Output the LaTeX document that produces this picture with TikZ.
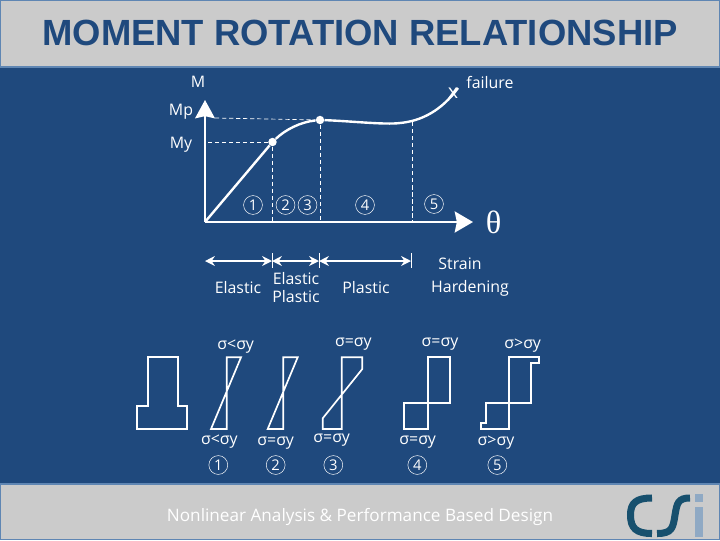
\documentclass[tikz,border=0pt]{standalone}
\usepackage{fontspec}
\setmainfont{Open Sans}
\newfontfamily\titlefont{Liberation Sans}
\newfontfamily\thetafont{Liberation Serif}
\usetikzlibrary{positioning,arrows.meta}
\definecolor{navy}{HTML}{1F497D}
\definecolor{band}{HTML}{CBCBCB}
\definecolor{frame}{HTML}{5F86B3}
\definecolor{csidark}{HTML}{17506E}
\definecolor{csilight}{HTML}{8FA9C4}
\tikzset{
    lbl/.style={text=white,inner sep=0pt,font=\fontsize{11.3}{13}\selectfont},
    num/.style={circle,draw=white,text=white,inner sep=0pt,minimum size=13.4pt,line width=0.35pt,font=\fontsize{10.5}{10.5}\selectfont},
    dot/.style={circle,fill=white,inner sep=0pt,minimum size=6pt},
    guide/.style={white,densely dashed,line width=0.5pt},
    vaxis/.style={white,line width=1.5pt,-{Stealth[length=13pt,width=14pt,inset=1.5pt]}},
    haxis/.style={white,line width=1.5pt,-{Stealth[length=13pt,width=15pt,inset=1.5pt]}},
    span/.style={white,line width=1pt,{Stealth[length=7pt,width=7pt]}-{Stealth[length=7pt,width=7pt]}},
    curve/.style={white,line width=1.7pt},
    block/.style={white,line width=1.2pt,line join=miter}
}
\begin{document}
\begin{tikzpicture}[x=0.025cm,y=-0.025cm]
    \useasboundingbox (0,0) rectangle (720,540);
    \fill[navy] (0,0) rectangle (720,540);
    \fill[band,draw=frame,line width=0.8pt] (0.5,0.5) rectangle (719.5,67);
    \fill[band,draw=frame,line width=0.8pt] (0.5,484) rectangle (719.5,539.5);
    \node[text=navy,inner sep=0pt,font=\titlefont\bfseries\fontsize{25.9}{30}\selectfont] at (360,33) (title) {MOMENT ROTATION RELATIONSHIP};
    \node[text=white,inner sep=0pt,font=\fontsize{12.2}{14}\selectfont] at (360,516.5) (footer) {Nonlinear Analysis \& Performance Based Design};

    % logo
    \draw[csidark,line width=5pt] (652,498) .. controls (636,498) and (630.5,503) .. (630.5,515) .. controls (630.5,528) and (636,533.5) .. (652,533.5);
    \draw[csidark,line width=5pt] (690,498) .. controls (678,498) and (677,503) .. (675,515) .. controls (673,528) and (672,533.5) .. (657,533.5);
    \fill[csilight] (695,494) rectangle (703,502);
    \fill[csilight] (695,507) rectangle (703,537);

    % moment rotation curve
    \coordinate (o) at (205,222);
    \coordinate (top) at (205,100);
    \coordinate (right) at (473,222);
    \coordinate (b1) at (272.5,222);
    \coordinate (b2) at (320,222);
    \coordinate (b3) at (412,222);
    \coordinate (h1) at (208,142);
    \coordinate (h2) at (215,118);
    \coordinate (s3) at (412,122);
    \coordinate (end) at (458,88);
    \node[dot] at (272.5,142) (my) {};
    \node[dot] at (320,120) (mp) {};
    \node[lbl] at (198,82) (m) {M};
    \node[lbl] at (181,112) (mplbl) {Mp};
    \node[lbl] at (181,145) (mylbl) {My};
    \node[lbl] at (490,82) (fail) {failure};
    \node[text=white,inner sep=0pt,font=\fontsize{14}{14}\selectfont] at (453,93) (x) {x};
    \node[text=white,inner sep=0pt,font=\thetafont\fontsize{23}{23}\selectfont] at (493.5,222) (theta) {θ};
    \draw[vaxis] (o) -- (top);
    \draw[haxis] (o) -- (right);
    \draw[guide] (h1) -- (my);
    \draw[guide] (h2) -- (mp);
    \draw[guide] (my) -- (b1);
    \draw[guide] (mp) -- (b2);
    \draw[guide] (s3) -- (b3);
    \draw[curve] (o) -- (my);
    \draw[curve] (my) .. controls (285,130) and (300,122) .. (mp);
    \draw[curve] (mp) .. controls (350,121) and (385,125) .. (400,123) .. controls (422,121) and (442,110) .. (end);
    \node[num] at (253,205) (n1) {1};
    \node[num] at (285.5,205) (n2) {2};
    \node[num] at (307.5,205) (n3) {3};
    \node[num] at (365,205) (n4) {4};
    \node[num] at (434,204) (n5) {5};

    % ranges
    \coordinate (r0) at (205,261);
    \coordinate (r1) at (272,261);
    \coordinate (r2) at (319,261);
    \coordinate (r3) at (411,261);
    \coordinate (t1a) at (272,253);
    \coordinate (t1b) at (272,268);
    \coordinate (t2a) at (319,253);
    \coordinate (t2b) at (319,268);
    \coordinate (t3a) at (411,253);
    \coordinate (t3b) at (411,268);
    \draw[span] (r0) -- (r1);
    \draw[span] (r1) -- (r2);
    \draw[span] (r2) -- (r3);
    \draw[white,line width=0.6pt] (t1a) -- (t1b);
    \draw[white,line width=0.6pt] (t2a) -- (t2b);
    \draw[white,line width=0.6pt] (t3a) -- (t3b);
    \node[lbl] at (238,288) (el) {Elastic};
    \node[lbl] at (296,279) (ep1) {Elastic};
    \node[lbl] at (296,297) (ep2) {Plastic};
    \node[lbl] at (366,288) (pl) {Plastic};
    \node[lbl] at (460,264) (sh1) {Strain};
    \node[lbl] at (470,288) (sh2) {Hardening};

    % section and stress blocks
    \draw[block,line width=1.4pt] (148.3,357.3) -- (177.7,357.3) -- (177.7,405.7) -- (187.3,405.7) -- (187.3,429) -- (137.3,429) -- (137.3,405.7) -- (148.3,405.7) -- cycle;
    \draw[block] (226.7,357.3) -- (241,357.3) -- (211,429) -- (226.7,429) -- cycle;
    \draw[block] (283.3,357.3) -- (297.7,357.3) -- (267.7,429) -- (283.3,429) -- cycle;
    \draw[block] (341.7,357.3) -- (362.3,357.3) -- (362.3,369) -- (322.7,418.3) -- (322.7,429) -- (341.7,429) -- cycle;
    \draw[block] (427.7,357.3) -- (450,357.3) -- (450,403.3) -- (404.3,403.3) -- (404.3,429) -- (427.7,429) -- cycle;
    \draw[block] (509,357.3) -- (539.3,357.3) -- (539.3,362.7) -- (531,362.7) -- (531,403.3) -- (485.7,403.3) -- (485.7,423.3) -- (481,423.3) -- (481,429) -- (509,429) -- cycle;

    \node[lbl] at (235.7,346.5) (s1t) {σ<σy};
    \node[lbl] at (353.3,344.5) (s3t) {σ=σy};
    \node[lbl] at (440,344.5) (s4t) {σ=σy};
    \node[lbl] at (522.7,345.5) (s5t) {σ>σy};
    \node[lbl] at (219.3,442) (s1b) {σ<σy};
    \node[lbl] at (275.7,443) (s2b) {σ=σy};
    \node[lbl] at (331.7,440) (s3b) {σ=σy};
    \node[lbl] at (417.7,442) (s4b) {σ=σy};
    \node[lbl] at (496,443) (s5b) {σ>σy};
    \node[num] at (218.3,465) (c1) {1};
    \node[num] at (275.7,465) (c2) {2};
    \node[num] at (333.3,465) (c3) {3};
    \node[num] at (417.3,465) (c4) {4};
    \node[num] at (497.3,465) (c5) {5};
\end{tikzpicture}
\end{document}
